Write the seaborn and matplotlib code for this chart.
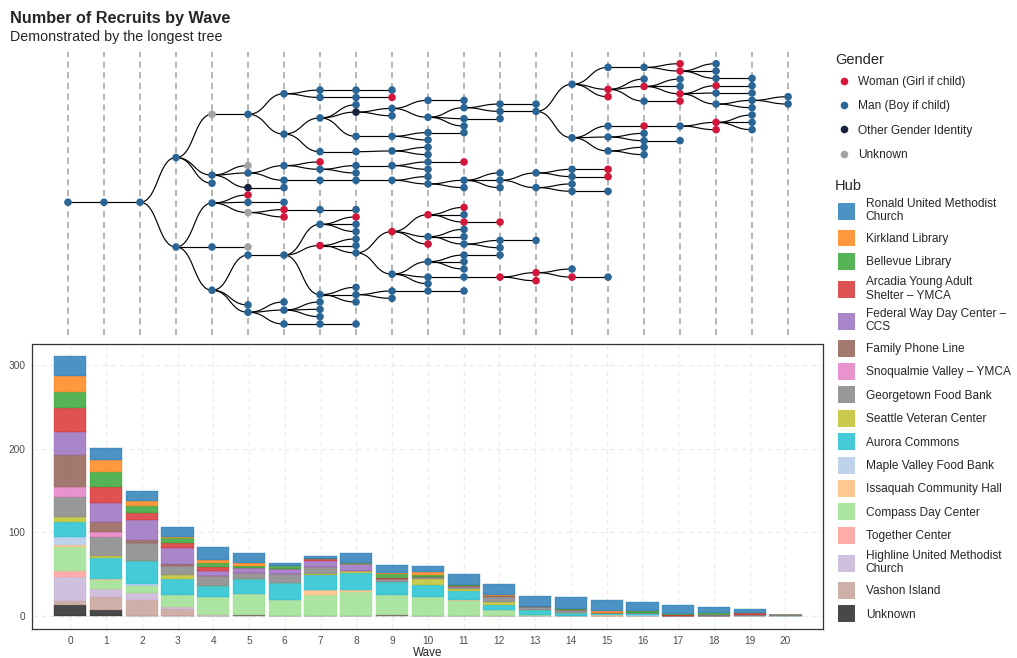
import numpy as np
import pandas as pd
import seaborn as sns
import matplotlib.pyplot as plt
from matplotlib.lines import Line2D
from matplotlib.patches import Patch
from matplotlib.collections import LineCollection

# ---- longest recruitment tree (one inner list per wave) ----
# vertical layout position of each recruit in that wave
node_pos = [
    [18.9],
    [18.9],
    [18.9],
    [12.8, 25.0],
    [6.9, 15.2, 16.3, 19.0, 25.0, 30.9],
    [6.9, 13.9, 14.9, 16.9, 17.9, 18.9, 20.3, 25.0, 26.1, 32.9, 33.9],
    [4.1, 9.6, 13.9, 15.9, 16.9, 18.9, 19.9, 20.9, 26.1, 32.5, 33.6, 35.5],
    [3.6, 4.6, 7.4, 12.0, 13.4, 14.4, 15.9, 19.9, 21.9, 24.8, 31.5, 32.5, 33.5, 34.5, 35.5],
    [3.6, 4.6, 5.6, 6.6, 9.9, 12.0, 13.9, 14.9, 15.9, 19.9, 20.9, 21.9, 22.9, 23.9, 24.8, 25.8,
     30.5, 31.5, 32.5, 35.5],
    [3.6, 4.6, 6.1, 7.1, 9.9, 11.9, 13.9, 15.9, 22.9, 28.7, 31.0, 32.0],
    [5.0, 7.3, 9.4, 10.4, 11.4, 12.4, 13.4, 14.4, 15.4, 16.4, 20.6, 23.6, 24.6, 27.0, 29.1, 30.0, 31.0],
    [5.0, 6.0, 7.5, 8.5, 9.4, 13.4, 15.9, 16.9, 19.6, 20.6, 21.6, 22.6, 23.6, 24.6, 26.1, 27.0,
     28.0, 29.1, 31.0],
    [5.5, 6.5, 7.5, 14.9, 15.9, 16.9, 21.6, 24.1, 25.1, 26.1, 29.1],
    [5.5, 6.5, 14.9, 16.9, 24.1, 28.5, 29.6],
    [2.8, 10.1, 14.4, 15.4, 16.4, 17.4, 28.0, 29.1],
    [0.5, 3.5, 4.5, 8.5, 10.0, 11.9, 14.4, 15.4, 17.4, 29.1],
    [0.5, 2.1, 3.1, 5.1, 8.5, 9.5, 10.5, 11.4, 12.4],
    [0.0, 1.0, 2.1, 3.1, 4.1, 5.1, 8.5, 10.5],
    [0.0, 1.0, 2.0, 3.0, 4.0, 5.5, 8.0, 9.0],
    [2.0, 3.0, 4.0, 5.0, 6.0, 7.0, 8.0, 9.0],
    [4.5, 5.5],
]
# W woman, M man, O other, U unknown
node_gender = [
    "M", "M", "M", "MM", "UMMMMM", "MUMOWMUUMMM", "MMMMMMWWMMMM", "MMMMWMMMMWMMMMM",
    "MMMOMMMMMMWMMMMMMMMM", "MWMMMMMMWMMM", "MMMMMMMMMMWMWMMMM", "MMMMMWMMWMWMMMMMMMM",
    "MMMMMMWMMMW", "MMMMMWW", "MMMMMMMW", "MWWMMMWWMM", "MMWMWMMMM", "WWMMWWMM",
    "MMMWMMWW", "MMMMMMMM", "MM",
]
# position of the recruiter in the previous wave
node_parent = [
    [None],
    [18.9],
    [18.9],
    [18.9, 18.9],
    [12.8, 12.8, 12.8, 25.0, 25.0, 25.0],
    [6.9, 15.2, 15.2, 15.2, 19.0, 19.0, 19.0, 25.0, 30.9, 30.9, 30.9],
    [6.9, 6.9, 14.9, 14.9, 16.9, 18.9, 20.3, 20.3, 26.1, 33.9, 33.9, 33.9],
    [4.1, 4.1, 9.6, 9.6, 13.9, 13.9, 15.9, 19.9, 26.1, 26.1, 26.1, 33.6, 33.6, 33.6, 35.5],
    [3.6, 4.6, 7.4, 7.4, 7.4, 12.0, 14.4, 14.4, 15.9, 19.9, 21.9, 21.9, 21.9, 24.8, 24.8, 24.8,
     31.5, 31.5, 31.5, 35.5],
    [3.6, 4.6, 6.6, 6.6, 9.9, 12.0, 13.9, 15.9, 25.8, 25.8, 31.5, 31.5],
    [6.1, 6.1, 9.9, 9.9, 11.9, 11.9, 13.9, 13.9, 15.9, 15.9, 22.9, 22.9, 22.9, 28.7, 28.7, 28.7, 31.0],
    [5.0, 7.3, 7.3, 7.3, 9.4, 13.4, 16.4, 16.4, 20.6, 20.6, 20.6, 23.6, 23.6, 23.6, 27.0, 27.0,
     27.0, 29.1, 31.0],
    [6.0, 6.0, 7.5, 15.9, 15.9, 15.9, 21.6, 24.6, 24.6, 26.1, 29.1],
    [5.5, 6.5, 15.9, 15.9, 24.1, 29.1, 29.1],
    [6.5, 6.5, 14.9, 14.9, 16.9, 16.9, 28.5, 28.5],
    [2.8, 2.8, 2.8, 10.1, 10.1, 10.1, 14.4, 15.4, 17.4, 29.1],
    [0.5, 3.5, 3.5, 3.5, 8.5, 10.0, 10.0, 11.9, 11.9],
    [0.5, 0.5, 3.1, 3.1, 3.1, 5.1, 8.5, 10.5],
    [1.0, 1.0, 1.0, 4.1, 4.1, 4.1, 8.5, 8.5],
    [2.0, 3.0, 4.0, 5.5, 5.5, 8.0, 8.0, 8.0],
    [5.0, 5.0],
]

gender_labels = ["Woman (Girl if child)", "Man (Boy if child)", "Other Gender Identity", "Unknown"]
gender_codes = ["W", "M", "O", "U"]
gender_colors = ["#D2163C", "#2A6595", "#17233D", "#A3A3A3"]

# ---- recruits per wave by hub ----
waves = list(range(21))
hubs = ["Ronald United Methodist\nChurch", "Kirkland Library", "Bellevue Library",
        "Arcadia Young Adult\nShelter – YMCA", "Federal Way Day Center –\nCCS", "Family Phone Line",
        "Snoqualmie Valley – YMCA", "Georgetown Food Bank", "Seattle Veteran Center",
        "Aurora Commons", "Maple Valley Food Bank", "Issaquah Community Hall",
        "Compass Day Center", "Together Center", "Highline United Methodist\nChurch",
        "Vashon Island", "Unknown"]
hub_colors = ["#1f77b4", "#ff7f0e", "#2ca02c", "#d62728", "#9467bd", "#8c564b", "#e377c2",
              "#7f7f7f", "#bcbd22", "#17becf", "#aec7e8", "#ffbb78", "#98df8a", "#ff9896",
              "#c5b0d5", "#c49c94", "#1a1a1a"]
ronald     = [24, 15, 13, 12, 16, 13, 4, 4, 11, 9, 7, 13, 14, 13, 14, 13, 11, 10, 7, 5, 0]
kirkland   = [19, 14, 5, 1, 4, 3, 0, 0, 0, 1, 4, 0, 1, 0, 0, 2, 0, 0, 0, 0, 0]
bellevue   = [19, 18, 9, 5, 4, 2, 3, 0, 2, 5, 2, 1, 0, 0, 1, 0, 2, 1, 2, 0, 1]
arcadia    = [28, 19, 8, 6, 5, 0, 1, 2, 0, 1, 0, 0, 0, 0, 0, 0, 0, 2, 1, 3, 0]
federal    = [28, 22, 24, 20, 6, 6, 6, 7, 8, 1, 0, 0, 0, 0, 0, 0, 0, 0, 1, 0, 0]
family     = [38, 13, 3, 2, 0, 0, 0, 0, 0, 0, 0, 1, 1, 0, 0, 0, 0, 0, 0, 0, 0]
snoqualmie = [12, 5, 1, 0, 0, 0, 0, 0, 0, 0, 0, 0, 0, 0, 0, 0, 0, 0, 0, 0, 0]
georgetown = [24, 23, 21, 11, 12, 8, 10, 8, 0, 3, 3, 3, 6, 3, 4, 0, 0, 0, 0, 0, 0]
seattle    = [6, 3, 0, 5, 0, 0, 0, 2, 2, 0, 7, 2, 3, 1, 0, 0, 0, 0, 0, 0, 0]
aurora     = [18, 24, 27, 19, 13, 17, 21, 18, 21, 16, 14, 10, 7, 6, 4, 3, 3, 0, 0, 1, 1]
maple      = [9, 0, 3, 0, 0, 0, 0, 0, 0, 0, 0, 0, 0, 0, 0, 0, 1, 0, 0, 0, 0]
issaquah   = [2, 2, 0, 0, 0, 0, 0, 5, 2, 0, 0, 2, 0, 0, 0, 1, 0, 0, 0, 0, 0]
compass    = [29, 10, 8, 14, 21, 25, 19, 26, 29, 24, 23, 18, 7, 1, 0, 0, 0, 0, 0, 0, 0]
together   = [7, 0, 0, 0, 0, 0, 0, 0, 0, 0, 0, 0, 0, 0, 0, 0, 0, 0, 0, 0, 0]
highline   = [29, 10, 8, 2, 2, 0, 0, 0, 0, 0, 0, 0, 0, 0, 0, 0, 0, 0, 0, 0, 0]
vashon     = [5, 16, 20, 9, 0, 0, 0, 0, 0, 0, 0, 0, 0, 0, 0, 0, 0, 0, 0, 0, 0]
unknown    = [13, 7, 0, 0, 0, 2, 0, 0, 0, 1, 0, 0, 0, 0, 0, 0, 0, 0, 0, 0, 0]
hub_counts = [ronald, kirkland, bellevue, arcadia, federal, family, snoqualmie, georgetown,
              seattle, aurora, maple, issaquah, compass, together, highline, vashon, unknown]

sns.set_style("white")
plt.rcParams["font.family"] = ["Liberation Sans", "DejaVu Sans"]

fig = plt.figure(figsize=(10.17, 6.58), dpi=100)
ax_tree = fig.add_axes([0.0318, 0.4909, 0.7778, 0.4301])
ax_bar = fig.add_axes([0.0318, 0.0436, 0.7778, 0.434])

# ---- tree panel ----
rows = []
for w in waves:
    for p, g, par in zip(node_pos[w], node_gender[w], node_parent[w]):
        rows.append({"wave": w, "pos": p, "gender": g, "parent": par})
nodes = pd.DataFrame(rows)

segs = []
t = np.linspace(0, 1, 40)
for _, r in nodes.iterrows():
    if r["wave"] == 0:
        continue
    prev = np.array(node_pos[r["wave"] - 1])
    y0 = prev[np.argmin(np.abs(prev - r["parent"]))]
    x0, x1, y1 = r["wave"] - 1, r["wave"], r["pos"]
    xm = (x0 + x1) / 2
    bx = (1 - t) ** 3 * x0 + 3 * (1 - t) ** 2 * t * xm + 3 * (1 - t) * t ** 2 * xm + t ** 3 * x1
    by = (1 - t) ** 3 * y0 + 3 * (1 - t) ** 2 * t * y0 + 3 * (1 - t) * t ** 2 * y1 + t ** 3 * y1
    segs.append(np.column_stack([bx, by]))

for w in waves:
    ax_tree.axvline(w, color="#A0A0A0", lw=1.1, ls=(0, (4, 3)), zorder=0)
ax_tree.add_collection(LineCollection(segs, colors="black", linewidths=0.85, zorder=1))
sns.scatterplot(data=nodes, x="wave", y="pos", hue="gender", hue_order=gender_codes,
                palette=dict(zip(gender_codes, gender_colors)), s=30, linewidth=0,
                legend=False, ax=ax_tree, zorder=3)
ax_tree.set_xlim(-0.99, 20.98)
ax_tree.set_ylim(37.0, -1.6)
ax_tree.axis("off")

# ---- stacked bars ----
bottom = np.zeros(len(waves))
for name, col, vals in reversed(list(zip(hubs, hub_colors, hub_counts))):
    ax_bar.bar(waves, vals, bottom=bottom, width=0.9, color=col, alpha=0.8,
               edgecolor=col, linewidth=0.3, zorder=2)
    bottom += np.array(vals)

ax_bar.set_xlim(-1.06, 21.06)
ax_bar.set_ylim(-15.5, 325)
ax_bar.set_xticks(waves)
ax_bar.set_yticks([0, 100, 200, 300])
ax_bar.grid(True, color="#EBEBEB", lw=0.9, ls=(0, (4, 3)), zorder=0)
ax_bar.set_axisbelow(True)
for s in ax_bar.spines.values():
    s.set_color("#333333")
    s.set_linewidth(0.9)
ax_bar.tick_params(length=3, width=0.6, color="#333333", labelcolor="#4D4D4D", labelsize=7.3, pad=2)
ax_bar.set_xlabel("Wave", fontsize=8.4, labelpad=0.5)
ax_bar.set_ylabel("")

# ---- titles ----
fig.text(10 / 1017, 1 - 18 / 658, "Number of Recruits by Wave", fontsize=11.7,
         fontweight="bold", va="center", ha="left")
fig.text(10 / 1017, 1 - 37 / 658, "Demonstrated by the longest tree", fontsize=10.3,
         va="center", ha="left")

# ---- legends ----
fig.text(835 / 1017, 1 - 60 / 658, "Gender", fontsize=10.5, va="center", ha="left")
g_handles = [Line2D([], [], ls="", marker="o", markersize=5.5, color=c, markeredgewidth=0)
             for c in gender_colors]
fig.legend(g_handles, gender_labels, loc="upper left",
           bbox_to_anchor=(831 / 1017, 1 - 71 / 658), frameon=False, fontsize=8.6,
           handlelength=1.45, handletextpad=0.4, labelspacing=1.04, borderaxespad=0)

fig.text(835 / 1017, 1 - 186 / 658, "Hub", fontsize=10.5, va="center", ha="left")
h_handles = [Patch(facecolor=c, alpha=0.8, edgecolor="none") for c in hub_colors]
leg_h = fig.legend(h_handles, hubs, loc="upper left",
                   bbox_to_anchor=(833 / 1017, 1 - 193 / 658), frameon=False, fontsize=8.6,
                   handlelength=1.42, handleheight=1.81, handletextpad=0.92,
                   labelspacing=0.535, borderaxespad=0)
for txt in leg_h.get_texts():
    txt.set_linespacing(1.15)

fig.savefig("out.png", dpi=100)
